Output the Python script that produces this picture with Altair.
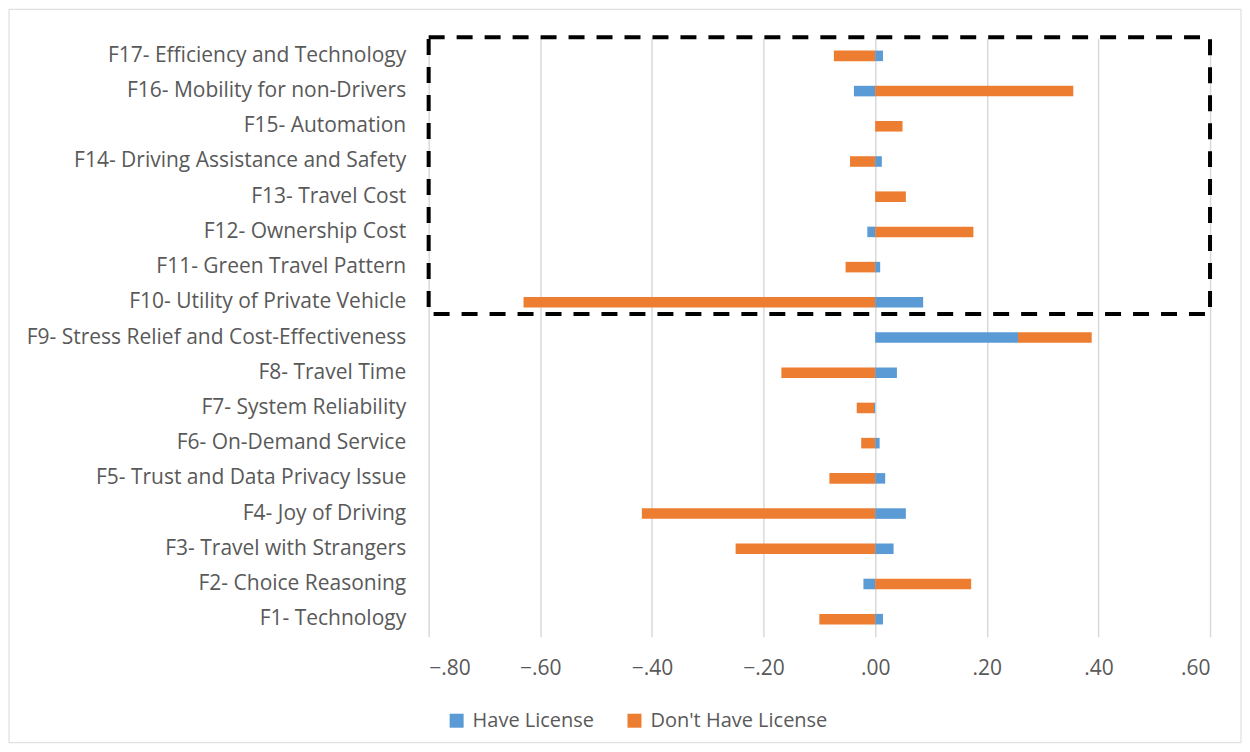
import altair as alt
import pandas as pd

categories = [
    "F1- Technology",
    "F2- Choice Reasoning",
    "F3- Travel with Strangers",
    "F4- Joy of Driving",
    "F5- Trust and Data Privacy Issue",
    "F6- On-Demand Service",
    "F7- System Reliability",
    "F8- Travel Time",
    "F9- Stress Relief and Cost-Effectiveness",
    "F10- Utility of Private Vehicle",
    "F11- Green Travel Pattern",
    "F12- Ownership Cost",
    "F13- Travel Cost",
    "F14- Driving Assistance and Safety",
    "F15- Automation",
    "F16- Mobility for non-Drivers",
    "F17- Efficiency and Technology",
]
have_license = [0.014, -0.021, 0.033, 0.055, 0.018, 0.008, -0.002, 0.039, 0.256,
                0.086, 0.009, -0.014, 0.0, 0.012, 0.0, -0.038, 0.014]
dont_have_license = [-0.100, 0.172, -0.250, -0.418, -0.082, -0.025, -0.031, -0.168, 0.132,
                     -0.630, -0.053, 0.176, 0.055, -0.045, 0.049, 0.355, -0.074]
series = ["Have License", "Don't Have License"]
colors = ["#5B9BD5", "#ED7D31"]
x_ticks = [-0.8, -0.6, -0.4, -0.2, 0.0, 0.2, 0.4, 0.6]

order_top_down = categories[::-1]

rows = []
for c, h, d in zip(categories, have_license, dont_have_license):
    rows.append({"factor": c, "series": series[0], "value": h, "ord": 0})
    rows.append({"factor": c, "series": series[1], "value": d, "ord": 1})
df = pd.DataFrame(rows)

W, H = 782, 599
FONT = "Open Sans"
TXT = "#595959"
FS = 21

xscale = alt.Scale(domain=[-0.8, 0.6], nice=False, zero=False)
x_axis = alt.Axis(title=None, values=x_ticks, ticks=False, domain=False,
                  grid=True, gridColor="#d9d9d9", gridWidth=1.5,
                  labelExpr="replace(format(datum.value, '.2f'), '0.', '.')",
                  labelPadding=21, labelFontSize=FS, labelColor=TXT,
                  labelFont=FONT)

bars = alt.Chart(df).mark_bar().encode(
    y=alt.Y("factor:N", sort=order_top_down,
            scale=alt.Scale(paddingInner=0.7, paddingOuter=0.35),
            axis=alt.Axis(title=None, ticks=False, domain=False, grid=False,
                          labelPadding=23, labelFontSize=FS, labelColor=TXT,
                          labelFont=FONT, labelLimit=600)),
    x=alt.X("value:Q", stack="zero", scale=xscale, axis=x_axis),
    color=alt.Color("series:N", scale=alt.Scale(domain=series, range=colors),
                    legend=alt.Legend(title=None, orient="none", direction="horizontal",
                                      legendX=18, legendY=673, padding=0,
                                      symbolType="square", symbolSize=196,
                                      symbolStrokeWidth=0, symbolOpacity=1,
                                      labelFontSize=20, labelColor=TXT, labelFont=FONT,
                                      labelLimit=400, labelOffset=6, columnPadding=30)),
    order=alt.Order("ord:Q"),
)

# dashed highlight box spanning F17 .. F10 rows
idx_top = order_top_down.index("F17- Efficiency and Technology")
idx_bot = order_top_down.index("F10- Utility of Private Vehicle")
box_df = pd.DataFrame([{"x0": -0.8, "x1": 0.6, "y0": idx_top - 0.53, "y1": idx_bot + 0.33}])
box = alt.Chart(box_df).mark_rect(filled=False, stroke="black", strokeWidth=4,
                                  strokeDash=[16, 12]).encode(
    x=alt.X("x0:Q", scale=xscale, axis=x_axis),
    x2="x1:Q",
    y=alt.Y("y0:Q", scale=alt.Scale(domain=[-0.5, len(categories) - 0.5],
                                     reverse=True, nice=False, zero=False),
            axis=None),
    y2="y1:Q",
)

frame = alt.Chart(pd.DataFrame([{"a": 1}])).mark_rect(
    filled=False, stroke="#d9d9d9", strokeWidth=1).encode(
    x=alt.value(-420), x2=alt.value(W + 31),
    y=alt.value(-29), y2=alt.value(H + 106),
)

chart = alt.layer(frame, bars, box).resolve_scale(y="independent").properties(
    width=W, height=H, padding=0
).configure(
    font=FONT,
    view=alt.ViewConfig(stroke="transparent", strokeWidth=0),
    axis=alt.AxisConfig(domain=False, ticks=False),
)

chart.save("out.html", embed_options={"renderer": "svg", "actions": False})
